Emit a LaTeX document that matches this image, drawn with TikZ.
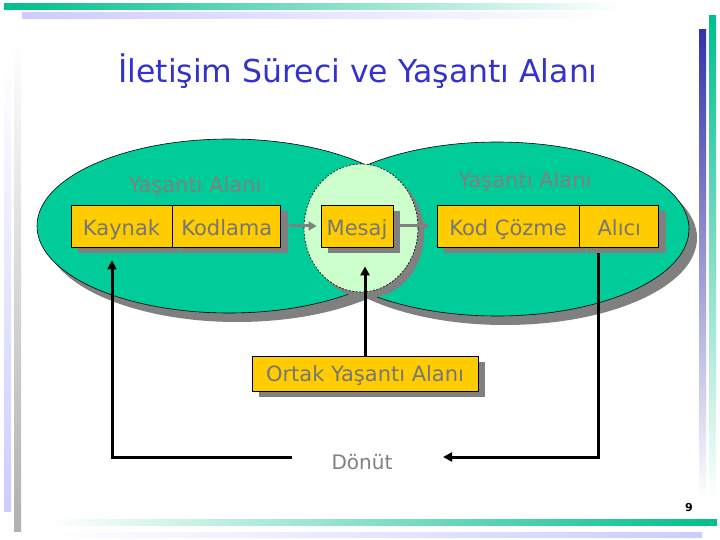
\documentclass[tikz,border=0pt]{standalone}
\usepackage{fontspec}
\setmainfont{DejaVu Sans}
\usepackage{tikz}
\usetikzlibrary{shapes.geometric, positioning, arrows.meta, shadows}
\definecolor{alanyesil}{RGB}{0,204,153}
\definecolor{ortakyesil}{RGB}{204,255,204}
\definecolor{kutusari}{RGB}{255,204,0}
\definecolor{golgegri}{RGB}{128,128,128}
\definecolor{yazigri}{RGB}{118,118,118}
\definecolor{baslikmavi}{RGB}{51,51,204}
\definecolor{seritmavi}{RGB}{51,51,170}
\definecolor{seritlila}{RGB}{204,204,255}
\definecolor{seritgri}{RGB}{176,176,176}
\definecolor{serityesil}{RGB}{0,190,140}
\tikzset{
  kutu/.style={
    rectangle, draw=black, line width=0.8pt, fill=kutusari,
    minimum height=42pt, inner sep=0pt,
    text=yazigri, font=\fontsize{21}{25}\selectfont,
    text height=19pt, text depth=0pt,
    drop shadow={shadow xshift=7pt, shadow yshift=-6pt, fill=golgegri, opacity=1}
  },
  % Yasanti alanlari (elipsler)
  alan/.style={
    ellipse, draw=black, line width=0.6pt, fill=alanyesil,
    minimum width=384pt, minimum height=174pt, inner sep=0pt,
    drop shadow={shadow xshift=8pt, shadow yshift=-9pt, fill=golgegri, opacity=1}
  },
  ortakalan/.style={
    ellipse, draw=black, line width=0.6pt, dash pattern=on 2pt off 1.5pt,
    fill=ortakyesil, minimum width=114pt, minimum height=128pt, inner sep=0pt,
    drop shadow={shadow xshift=6pt, shadow yshift=-6pt, fill=golgegri, opacity=1}
  },
  etiket/.style={text=golgegri, font=\fontsize{21}{25}\selectfont, anchor=base},
  akis/.style={-{Triangle[length=8pt,width=9pt]}, line width=3pt, draw=golgegri},
  geri/.style={-{Triangle[length=9pt,width=9pt]}, line width=3pt, draw=black},
  cizgi/.style={line width=3pt, draw=black}
}

\begin{document}
\begin{tikzpicture}[x=1pt, y=-1pt]
\useasboundingbox (0,0) rectangle (720,540);

% Kenar seritleri
\shade[left color=serityesil, right color=white] (4,4) rectangle (620,10);
\shade[left color=seritlila, right color=white] (22,13) rectangle (610,19);
\shade[top color=seritmavi, bottom color=white] (699,30) rectangle (706,500);
\shade[top color=serityesil, bottom color=white] (709,16) rectangle (716,500);
\shade[top color=white, bottom color=seritlila] (4,60) rectangle (11,511);
\shade[top color=white, bottom color=seritgri] (14,40) rectangle (21,531);
\shade[left color=white, right color=serityesil] (50,519) rectangle (717,525);
\shade[left color=white, right color=seritlila] (50,532) rectangle (702,537);

% Baslik
\node[anchor=base, text=baslikmavi, font=\fontsize{31.5}{38}\selectfont] (baslik) at (358,83) {İletişim Süreci ve Yaşantı Alanı};

% Yasanti alanlari
\node[alan] (kaynakalani) at (229,226) {};
\node[alan] (alicialani) at (497,229) {};
\node[ortakalan] (mesajalani) at (361,228) {};

\node[etiket] (solyasanti) at (195,193) {Yaşantı Alanı};
\node[etiket] (sagyasanti) at (525,188) {Yaşantı Alanı};

% Surec kutulari
\node[kutu, minimum width=101pt] (kaynak) at (121.5,226) {Kaynak};
\node[kutu, minimum width=108pt, right=0pt of kaynak] (kodlama) {Kodlama};
\node[kutu, minimum width=72pt] (mesaj) at (357,226) {Mesaj};
\node[kutu, minimum width=142pt] (kodcozme) at (508,226) {Kod Çözme};
\node[kutu, minimum width=79pt, right=0pt of kodcozme] (alici) {Alıcı};

\node[kutu, minimum width=226pt, minimum height=35pt, text height=15pt] (ortak) at (365,373.5) {Ortak Yaşantı Alanı};

% Donut
\node[etiket, font=\fontsize{20}{24}\selectfont] (donut) at (362,469) {Dönüt};
\coordinate (donutsol) at (292,457);
\coordinate (donutsag) at (443,457);

% Akis oklari
\draw[akis, shorten <=8pt, shorten >=4pt] (kodlama.east) -- (mesaj.west);
\draw[akis, shorten <=6pt, shorten >=7pt] (mesaj.east) -- (kodcozme.west);
\draw[geri, shorten >=19pt] (ortak.north) -- (ortak.north |- mesaj.south);

% Geri bildirim
\draw[geri, shorten <=6pt] ([xshift=-20.5pt]alici.south) |- (donutsag);
\draw[geri, shorten >=13pt] (donutsol) -| ([xshift=-9.5pt]kaynak.south);

% Sayfa numarasi
\node[anchor=base, font=\fontsize{11}{13}\selectfont\bfseries] (sayfa) at (689,511) {9};

\end{tikzpicture}
\end{document}
